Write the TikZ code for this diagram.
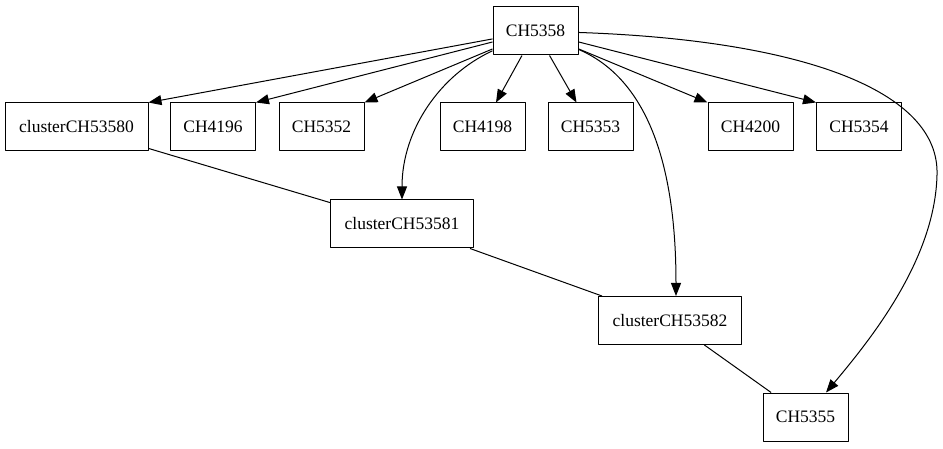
\documentclass[tikz,border=0pt]{standalone}
\usepackage{fontspec}
\setmainfont{Liberation Serif}
\usetikzlibrary{arrows.meta}

\begin{document}
\begin{tikzpicture}[x=1pt, y=-1pt, line width=1pt, line join=round,
    font=\fontsize{17.5pt}{20pt}\selectfont,
    chbox/.style={draw, minimum width=85pt, minimum height=48pt, inner sep=0pt},
    clbox/.style={chbox, minimum width=143pt},
    edge/.style={-{Triangle[length=13pt, width=10pt]}}]
        % ---------------------------------------------------
        % picture size (pixel units)
        % ---------------------------------------------------
        \useasboundingbox (0,0) rectangle (943,449);

        % top node
        \node[chbox] (CH5358) at (535.5,31) {CH5358};

        % second row
        \node[clbox] (clusterCH53580) at (76.5,127) {clusterCH53580};
        \node[chbox] (CH4196) at (213,127) {CH4196};
        \node[chbox] (CH5352) at (321.5,127) {CH5352};
        \node[chbox] (CH4198) at (482.5,127) {CH4198};
        \node[chbox] (CH5353) at (590.5,127) {CH5353};
        \node[chbox] (CH4200) at (750.5,127) {CH4200};
        \node[chbox] (CH5354) at (859,127) {CH5354};

        % lower chain
        \node[clbox] (clusterCH53581) at (402,224) {clusterCH53581};
        \node[clbox] (clusterCH53582) at (670,320.5) {clusterCH53582};
        \node[chbox] (CH5355) at (805.5,417) {CH5355};

        % straight arrows from the top node
        \draw[edge] (CH5358) -- (clusterCH53580.north east);
        \draw[edge] (CH5358) -- (CH4196.north east);
        \draw[edge] (CH5358) -- (CH5352.north east);
        \draw[edge] (CH5358) -- (CH4198);
        \draw[edge] (CH5358) -- (CH5353);
        \draw[edge] (CH5358) -- (CH4200.north west);
        \draw[edge] (CH5358) -- (CH5354.north west);

        % curved arrows
        \draw[edge] (CH5358) .. controls (440,75) and (402,130) .. (clusterCH53581.north);
        \draw[edge] (CH5358) .. controls (650,80) and (676,170) .. ([xshift=6pt]clusterCH53582.north);
        \draw[edge] (CH5358) .. controls (800,40) and (940,90) .. (937,175)
            .. controls (935,260) and (870,340) .. (CH5355);

        % plain links
        \draw (clusterCH53580) -- (clusterCH53581);
        \draw (clusterCH53581) -- (clusterCH53582);
        \draw (clusterCH53582) -- (CH5355);
    \end{tikzpicture}
\end{document}
